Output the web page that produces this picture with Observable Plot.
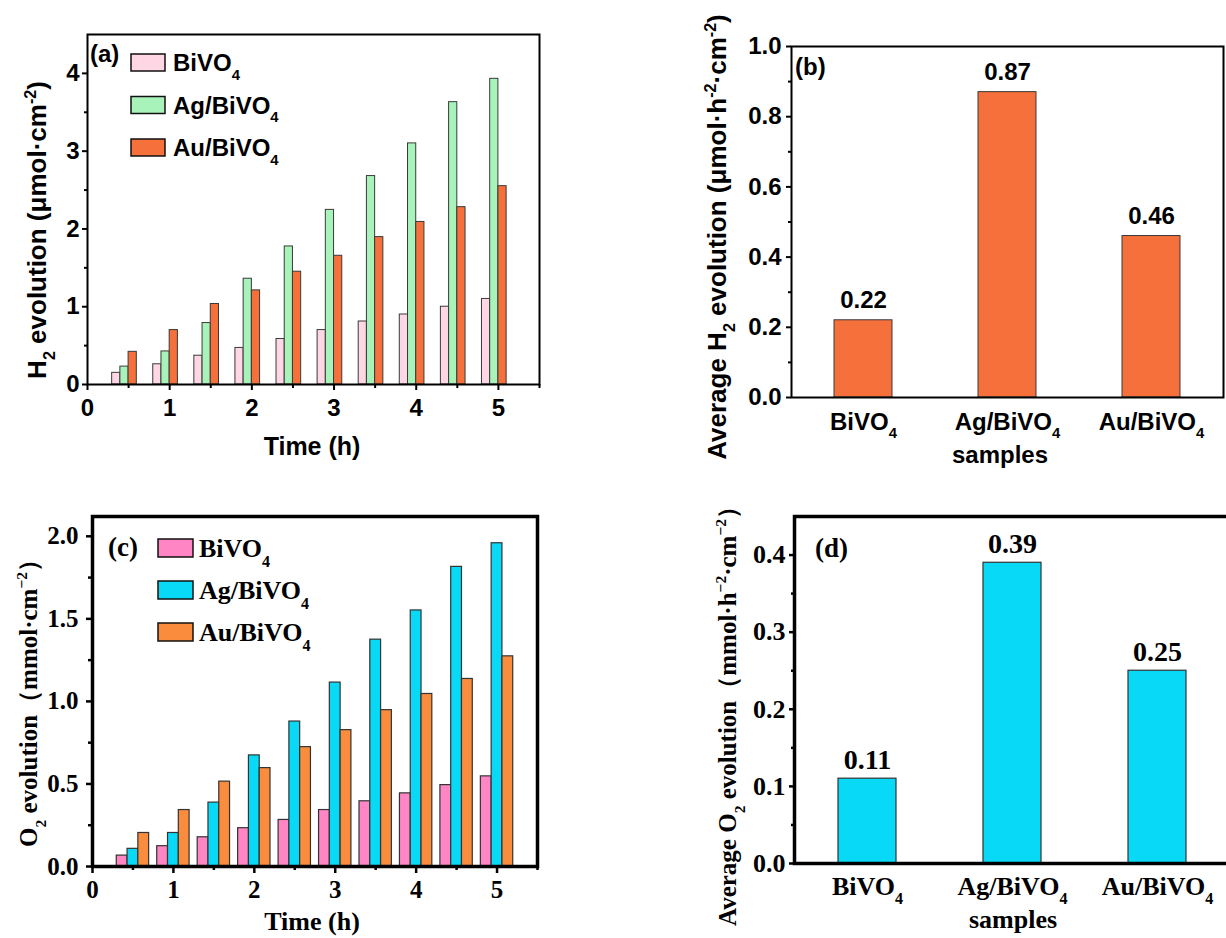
<!DOCTYPE html>
<html><head><meta charset="utf-8">
<script src="https://cdn.jsdelivr.net/npm/d3@7"></script>
<script src="https://cdn.jsdelivr.net/npm/@observablehq/plot@0.6"></script>
<style>
html,body{margin:0;padding:0;background:#fff;overflow:hidden;width:1226px;height:938px;}
#wrap{position:relative;width:1226px;height:938px;overflow:hidden;}
#wrap > svg{position:absolute;}
</style></head><body><div id="wrap"></div>
<script>
// ---------- data ----------
const times = [0.5, 1, 1.5, 2, 2.5, 3, 3.5, 4, 4.5, 5];
const samples = ["BiVO4", "Ag/BiVO4", "Au/BiVO4"];
// (a) H2 evolution, µmol·cm^-2
const h2BiVO4 = [0.15, 0.26, 0.37, 0.47, 0.585, 0.70, 0.81, 0.90, 1.00, 1.10];
const h2Ag    = [0.23, 0.425, 0.79, 1.36, 1.775, 2.245, 2.68, 3.10, 3.63, 3.93];
const h2Au    = [0.42, 0.70, 1.035, 1.21, 1.45, 1.655, 1.895, 2.09, 2.28, 2.55];
// (b) average H2 rate
const h2Rate = [0.22, 0.87, 0.46];
// (c) O2 evolution, mmol·cm^-2
const o2BiVO4 = [0.066, 0.123, 0.177, 0.232, 0.282, 0.342, 0.395, 0.443, 0.493, 0.546];
const o2Ag    = [0.107, 0.203, 0.387, 0.673, 0.878, 1.114, 1.374, 1.551, 1.815, 1.958];
const o2Au    = [0.203, 0.342, 0.514, 0.596, 0.723, 0.826, 0.947, 1.045, 1.136, 1.273];
// (d) average O2 rate
const o2Rate = [0.11, 0.39, 0.25];
// tick values
const timeTicks = [0, 1, 2, 3, 4, 5];
const timeMinor = [0.5, 1.5, 2.5, 3.5, 4.5, 5.5];

// ---------- tables ----------
const seriesA = [h2BiVO4, h2Ag, h2Au];
const seriesC = [o2BiVO4, o2Ag, o2Au];
const tableA = times.flatMap((t, i) => samples.map((s, k) => ({t, s, k, v: seriesA[k][i]})));
const tableC = times.flatMap((t, i) => samples.map((s, k) => ({t, s, k, v: seriesC[k][i]})));
const tableB = samples.map((s, i) => ({s, v: h2Rate[i]}));
const tableD = samples.map((s, i) => ({s, v: o2Rate[i]}));

const SANS = "'Liberation Sans', Arial, Helvetica, sans-serif";
const SERIF = "'Liberation Serif', 'Times New Roman', serif";
const colA = ["#FFD6E3", "#A8F3BA", "#F5703A"];
const colC = ["#FF85C4", "#07D9F6", "#FA8C3E"];
const wA = 0.1, offA = [-0.2, -0.1, 0];
const wC = 0.4 / 3, offC = [-0.2, -0.2 + 0.4 / 3, -0.2 + 0.8 / 3];

const wrap = document.getElementById("wrap");
function place(svg, left, top) {
  svg.style.left = left + "px"; svg.style.top = top + "px";
  wrap.appendChild(svg);
  return svg;
}
// rich text helper (sub/superscripts)
function rich(svg, {x, y, rotate = 0, size, family, anchor = "middle", parts}) {
  const t = d3.select(svg).append("text")
    .attr("transform", `translate(${x},${y}) rotate(${rotate})`)
    .attr("text-anchor", anchor).attr("font-size", size)
    .attr("font-family", family).attr("font-weight", "bold").attr("fill", "black");
  let shift = 0;
  for (const p of parts) {
    const [txt, kind] = typeof p === "string" ? [p, null] : p;
    const target = kind === "sub" ? size * 0.36 : kind === "sup" ? -size * 0.4 : 0;
    const ts = t.append("tspan").text(txt).attr("dy", target - shift);
    if (kind) ts.attr("font-size", size * 0.62);
    shift = target;
  }
  return t;
}
function legend(svg, {x, y0, step, w, h, colors, size, family, gap}) {
  const g = d3.select(svg).append("g");
  samples.forEach((s, i) => {
    const yc = y0 + i * step;
    g.append("rect").attr("x", x).attr("y", yc - h / 2).attr("width", w).attr("height", h)
      .attr("fill", colors[i]).attr("stroke", "#111").attr("stroke-width", 1.5);
    rich(svg, {x: x + w + gap, y: yc + size * 0.36, size, family, anchor: "start",
      parts: [s.slice(0, -1), [s.slice(-1), "sub"]]});
  });
}
function subTicks(svg, size) {
  d3.select(svg).selectAll('g[aria-label="x-axis tick label"] text').each(function () {
    const s = this.textContent;
    const sel = d3.select(this);
    sel.text(null);
    sel.append("tspan").text(s.slice(0, -1));
    sel.append("tspan").text(s.slice(-1)).attr("dy", size * 0.36).attr("font-size", size * 0.62);
  });
}

// ---------- (a) ----------
const svgA = Plot.plot({
  width: 560, height: 470, marginLeft: 87, marginRight: 21, marginTop: 34, marginBottom: 86,
  x: {domain: [0, 5.5]},
  y: {domain: [0, 4.5]},
  color: {domain: samples, range: colA},
  style: {fontFamily: SANS, fontSize: "24px", fontWeight: "bold", color: "black", background: "transparent", overflow: "visible"},
  marks: [
    Plot.rectY(tableA, {x1: d => d.t + offA[d.k], x2: d => d.t + offA[d.k] + wA, y1: 0, y2: "v",
      fill: "s", stroke: "#3a3a3a", strokeWidth: 1}),
    Plot.axisX({ticks: timeTicks, tickSize: 6, tickPadding: 8, strokeWidth: 2, label: null, tickFormat: d3.format("d")}),
    Plot.axisX({ticks: timeMinor, tickSize: 4, strokeWidth: 2, label: null, tickFormat: () => ""}),
    Plot.axisY({ticks: [0, 1, 2, 3, 4], tickSize: 5, tickPadding: 3, strokeWidth: 2, label: null, tickFormat: d3.format("d")}),
    Plot.axisY({ticks: [0.5, 1.5, 2.5, 3.5], tickSize: 3, strokeWidth: 2, label: null, tickFormat: () => ""}),
    Plot.frame({stroke: "black", strokeWidth: 2})
  ]
});
place(svgA, 0, 0);
rich(svgA, {x: 46, y: 230, rotate: -90, size: 26, family: SANS,
  parts: ["H", ["2", "sub"], " evolution (μmol·cm", ["-2", "sup"], ")"]});
rich(svgA, {x: 312, y: 455, size: 25, family: SANS, parts: ["Time (h)"]});
rich(svgA, {x: 90, y: 62, size: 24, family: SANS, anchor: "start", parts: ["(a)"]});
legend(svgA, {x: 131, y0: 62.5, step: 42.5, w: 34, h: 17, colors: colA, size: 24, family: SANS, gap: 8});

// ---------- (b) ----------
const svgB = Plot.plot({
  width: 586, height: 470, marginLeft: 151, marginRight: 3, marginTop: 46, marginBottom: 73,
  x: {domain: samples, paddingInner: 0.6, paddingOuter: 0.3},
  y: {domain: [0, 1.0]},
  style: {fontFamily: SANS, fontSize: "24px", fontWeight: "bold", color: "black", background: "transparent", overflow: "visible"},
  marks: [
    Plot.barY(tableB, {x: "s", y: "v", fill: "#F5703A", stroke: "#3a3a3a", strokeWidth: 1}),
    Plot.text(tableB, {x: "s", y: "v", text: d => d3.format(".2f")(d.v), dy: -12, lineAnchor: "bottom",
      fontSize: 24, fontWeight: "bold", fill: "black"}),
    Plot.axisX({tickSize: 0, tickPadding: 15, label: null}),
    Plot.axisY({ticks: d3.range(0, 1.01, 0.2), tickSize: 5, tickPadding: 5, strokeWidth: 2, label: null, tickFormat: d3.format(".1f")}),
    Plot.axisY({ticks: d3.range(0.1, 1.0, 0.2), tickSize: 3, strokeWidth: 2, label: null, tickFormat: () => ""}),
    Plot.frame({stroke: "black", strokeWidth: 2})
  ]
});
place(svgB, 640, 0);
subTicks(svgB, 24);
rich(svgB, {x: 86, y: 237, rotate: -90, size: 26, family: SANS,
  parts: ["Average H", ["2", "sub"], " evolution (μmol·h", ["-2", "sup"], "·cm", ["-2", "sup"], ")"]});
rich(svgB, {x: 360, y: 463, size: 24, family: SANS, parts: ["samples"]});
rich(svgB, {x: 155, y: 75, size: 24, family: SANS, anchor: "start", parts: ["(b)"]});

// ---------- (c) ----------
const svgC = Plot.plot({
  width: 560, height: 468, marginLeft: 92, marginRight: 23, marginTop: 46, marginBottom: 72,
  x: {domain: [0, 5.5]},
  y: {domain: [0, 2.12]},
  color: {domain: samples, range: colC},
  style: {fontFamily: SERIF, fontSize: "25px", fontWeight: "bold", color: "black", background: "transparent", overflow: "visible"},
  marks: [
    Plot.rectY(tableC, {x1: d => d.t + offC[d.k], x2: d => d.t + offC[d.k] + wC, y1: 0, y2: "v",
      fill: "s", stroke: "#333", strokeWidth: 1.2}),
    Plot.axisX({ticks: timeTicks, tickSize: 7, tickPadding: 7, strokeWidth: 2.5, label: null, tickFormat: d3.format("d")}),
    Plot.axisX({ticks: timeMinor, tickSize: 4, strokeWidth: 2.5, label: null, tickFormat: () => ""}),
    Plot.axisY({ticks: [0, 0.5, 1, 1.5, 2], tickSize: 6, tickPadding: 8, strokeWidth: 2.5, label: null, tickFormat: d3.format(".1f")}),
    Plot.axisY({ticks: [0.25, 0.75, 1.25, 1.75], tickSize: 4, strokeWidth: 2.5, label: null, tickFormat: () => ""}),
    Plot.frame({stroke: "black", strokeWidth: 3.5})
  ]
});
place(svgC, 0, 470);
rich(svgC, {x: 37, y: 227, rotate: -90, size: 25, family: SERIF,
  parts: ["O", ["2", "sub"], " evolution（mmol·cm", ["−2", "sup"], "）"]});
rich(svgC, {x: 312, y: 460, size: 26, family: SERIF, parts: ["Time (h)"]});
rich(svgC, {x: 108, y: 86, size: 27, family: SERIF, anchor: "start", parts: ["(c)"]});
legend(svgC, {x: 158, y0: 78, step: 42, w: 35, h: 18, colors: colC, size: 26, family: SERIF, gap: 6});

// ---------- (d) ----------
const svgD = Plot.plot({
  width: 600, height: 468, marginLeft: 154, marginRight: 11, marginTop: 46, marginBottom: 75,
  x: {domain: samples, paddingInner: 0.6, paddingOuter: 0.3},
  y: {domain: [0, 0.45]},
  style: {fontFamily: SERIF, fontSize: "26px", fontWeight: "bold", color: "black", background: "transparent", overflow: "visible"},
  marks: [
    Plot.barY(tableD, {x: "s", y: "v", fill: "#07D9F6", stroke: "#333", strokeWidth: 1.2}),
    Plot.text(tableD, {x: "s", y: "v", text: d => d3.format(".2f")(d.v), dy: -10, lineAnchor: "bottom",
      fontSize: 28, fontWeight: "bold", fill: "black"}),
    Plot.axisX({tickSize: 0, tickPadding: 13, label: null}),
    Plot.axisY({ticks: [0, 0.1, 0.2, 0.3, 0.4], tickSize: 5, tickPadding: 4, strokeWidth: 2.5, label: null, tickFormat: d3.format(".1f")}),
    Plot.axisY({ticks: [0.05, 0.15, 0.25, 0.35], tickSize: 3, strokeWidth: 2.5, label: null, tickFormat: () => ""}),
    Plot.frame({stroke: "black", strokeWidth: 3.5})
  ]
});
place(svgD, 640, 470);
subTicks(svgD, 26);
rich(svgD, {x: 96, y: 240, rotate: -90, size: 25, family: SERIF,
  parts: ["Average O", ["2", "sub"], " evolution（mmol·h", ["−2", "sup"], "·cm", ["−2", "sup"], "）"]});
rich(svgD, {x: 373, y: 458, size: 26, family: SERIF, parts: ["samples"]});
rich(svgD, {x: 175, y: 87, size: 27, family: SERIF, anchor: "start", parts: ["(d)"]});
</script></body></html>
